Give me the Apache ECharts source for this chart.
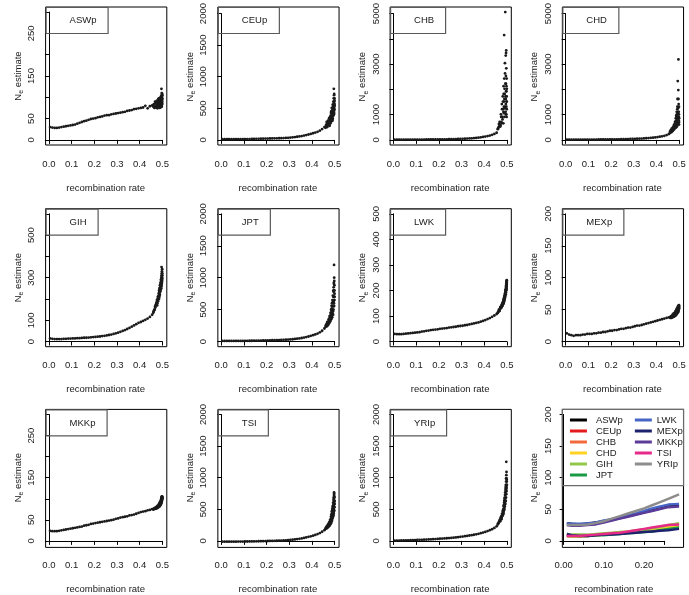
<!DOCTYPE html>
<html><head><meta charset="utf-8">
<script src="https://cdn.jsdelivr.net/npm/echarts@6/dist/echarts.min.js"></script>
<style>html,body{margin:0;padding:0;background:#fff}#c{width:689px;height:595px}</style>
</head><body><div id="c"></div>
<script>
// ---------- data ----------
const xsBody = [0.005,0.015,0.025,0.035,0.045,0.055,0.065,0.075,0.085,0.095,0.105,0.115,0.125,0.135,0.145,0.155,0.165,0.175,0.185,0.195,0.205,0.215,0.225,0.235,0.245,0.255,0.265,0.275,0.285,0.295,0.305,0.315,0.325,0.335,0.345,0.355,0.365,0.375,0.385,0.395,0.405,0.415,0.425,0.435,0.445,0.455];
const xsTail = [0.46,0.463,0.466,0.469,0.472,0.475,0.477,0.479,0.481,0.483,0.485,0.486,0.487,0.488,0.489,0.49,0.491,0.492,0.493,0.494,0.495,0.4955,0.496,0.4965,0.497,0.4975,0.498,0.4985,0.499,0.4995,0.4998];
const xsTail2 = [0.461,0.465,0.468,0.471,0.474,0.476,0.478,0.48,0.482,0.484,0.4845,0.4855,0.4865,0.4875,0.4885,0.4895,0.4905,0.4915,0.4925,0.4935,0.4945,0.4952,0.4958,0.4962,0.4968,0.4972,0.4978,0.4982,0.4988,0.4992,0.4996];

const ASWpBody = [30,29,28,28,29,30,31,32,33,34, 35,36,38,40,42,44,45,47,49,50, 51,53,54,55,57,58,58,60,61,62, 63,64,65,66,68,69,70,72,73,74, 75,76,80,74,79,81];
const ASWpTail = [78,84,76,86,80, 88,78,90,82,92, 80,86,95,78,90, 84,97,76,88,100, 82,93,120,86,98, 78,102,88,95,84, 105];
const ASWpTail2 = [82,75,90,77,85, 92,74,87,96,79, 88,83,98,75,92, 80,99,86,78,94, 89,104,81,96,87, 110,84,99,91,108, 97];
const CEUpBody = [10,10,10,10,10,10,11,11,11,12, 12,13,13,14,15,16,17,18,19,20, 21,22,23,24,25,26,27,28,30,33, 36,40,44,49,54,60,67,75,84,94, 104,114,126,145,170,200];
const CEUpTail = [190,240,220,260,230, 300,250,330,280,380, 300,350,420,310,400, 360,470,330,430,520, 380,560,450,800,500, 700,420,600,480,650, 540];
const CEUpTail2 = [210,280,200,300,260, 340,220,360,260,420, 330,450,290,500,350, 410,300,550,380,470, 600,420,520,650,400, 580,460,720,520,620, 560];
const CHBBody = [10,10,10,10,10,11,11,11,12,12, 12,13,13,14,15,15,16,17,18,19, 20,21,22,24,25,27,29,31,34,37, 41,45,50,56,62,70,78,88,100,115, 130,150,170,200,235,280];
const CHBTail = [420,480,530,600,560, 900,650,1200,800,1500, 1100,1800,1300,4100,1600, 2000,1250,2600,5000,1700, 3300,1400,2200,3400,1000, 2800,1900,1500,2400,1200, 2000];
const CHBTail2 = [450,620,700,520,1000, 700,1400,900,1700,1200, 650,2100,1050,1500,2400, 900,1800,3000,1300,2200, 1100,1600,2500,1000,1900, 3500,1300,2100,900,1700, 1500];
const CHDBody = [10,10,10,10,10,10,11,11,11,12, 12,13,13,14,15,15,16,17,18,19, 20,21,22,24,25,27,29,31,34,37, 40,44,48,53,58,64,71,79,88,98, 110,124,140,160,190,230];
const CHDTail = [320,380,300,420,350, 480,400,550,450,650, 500,750,600,900,550, 1000,700,1200,1600,2300, 800,1100,650,1950,3150, 900,1400,750,1000,600, 850];
const CHDTail2 = [280,340,450,380,520, 420,600,480,700,560, 620,850,480,950,700, 1100,520,800,1300,900, 600,1000,700,1250,850, 1600,700,1100,900,1300, 700];
const GIHBody = [15,13,12,12,12,12,13,13,14,14, 15,15,16,16,17,18,18,19,20,21, 22,23,24,26,27,29,31,33,36,39, 42,46,50,54,59,64,70,76,82,88, 92,97,102,108,116,126];
const GIHTail = [135,145,150,160,175, 185,170,200,190,215, 200,230,210,240,220, 255,235,265,245,280, 250,290,260,350,270, 300,275,310,285,295, 320];
const GIHTail2 = [140,150,165,170,180, 195,180,210,200,225, 205,240,220,250,230, 265,240,275,255,290, 265,300,270,310,280, 320,290,330,300,340, 310];
const JPTBody = [10,10,10,10,10,10,10,11,11,11, 12,12,13,13,14,14,15,16,17,18, 19,20,21,22,23,24,25,27,29,31, 34,37,41,45,50,56,63,71,80,90, 100,112,126,145,170,205];
const JPTTail = [230,260,240,290,270, 330,300,380,320,420, 350,480,400,520,380, 560,430,620,470,700, 500,780,550,920,600, 1200,650,950,700,800, 750];
const JPTTail2 = [250,280,310,260,350, 290,400,340,450,360, 500,420,560,380,600, 450,650,500,720,420, 800,560,850,620,700, 900,560,1000,650,880, 700];
const LWKBody = [30,29,29,29,30,31,32,33,34,35, 36,37,39,40,42,43,45,46,47,48, 50,51,52,53,55,56,57,58,60,61, 62,64,65,67,69,71,73,75,78,81, 84,88,92,97,102,108];
const LWKTail = [112,118,122,128,132, 138,135,145,140,152, 148,160,155,168,160, 175,168,182,175,192, 185,200,192,210,200, 220,205,230,215,240, 225];
const LWKTail2 = [115,125,120,135,130, 142,138,150,145,158, 150,165,158,172,165, 180,172,188,180,198, 190,205,198,215,205, 225,210,235,220,232, 238];
const MEXpBody = [13,11,10,9,10,10,10,11,11,12, 12,12,13,13,14,14,15,15,16,17, 17,18,18,19,20,20,21,22,22,23, 24,25,25,26,27,28,29,30,31,32, 33,34,35,36,37,38];
const MEXpTail = [38,39,37,40,38, 42,39,43,40,44, 41,46,42,47,43, 48,44,49,45,50, 46,52,47,54,48, 56,50,53,51,55, 52];
const MEXpTail2 = [37,40,38,42,39, 44,40,45,41,47, 43,48,44,49,45, 51,46,52,47,53, 49,55,50,54,52, 56,51,55,53,54, 57];
const MKKpBody = [27,26,26,26,27,28,29,30,31,32, 33,34,35,36,37,39,40,41,43,44, 45,46,47,48,49,50,51,52,53,55, 56,58,59,60,61,63,64,65,67,69, 71,72,73,75,76,78];
const MKKpTail = [77,79,78,80,79, 82,80,84,82,85, 83,87,84,88,86, 90,87,92,89,95, 91,98,93,101,95, 104,97,107,100,105, 102];
const MKKpTail2 = [78,80,79,82,81, 84,82,86,83,88, 85,90,86,92,88, 94,90,96,92,99, 94,102,96,105,99, 106,100,108,103,104, 106];
const TSIBody = [10,10,10,10,10,10,10,11,11,11, 12,12,13,13,14,15,16,17,18,19, 20,21,22,23,24,26,27,29,31,34, 37,41,45,50,55,61,68,76,85,94, 104,115,128,145,165,190];
const TSITail = [210,230,220,260,240, 290,260,320,280,360, 300,400,330,450,350, 500,380,540,400,580, 420,620,450,680,480, 780,500,720,550,650, 600];
const TSITail2 = [220,250,230,280,250, 310,270,350,300,400, 320,430,360,480,380, 520,420,560,440,620, 460,660,500,700,520, 740,560,760,600,700, 640];
const YRIpBody = [27,27,27,28,29,30,31,32,33,35, 36,38,39,41,43,45,47,49,51,53, 56,58,61,63,66,69,72,76,80,85, 90,95,100,106,112,118,125,133,142,152, 163,175,190,205,225,250];
const YRIpTail = [280,300,320,350,370, 400,380,450,420,500, 460,560,500,620,520, 680,560,740,600,820, 650,880,700,1000,750, 1260,800,1100,850,950, 900];
const YRIpTail2 = [290,310,340,330,390, 360,420,410,480,440, 520,480,580,520,650, 560,700,600,780,640, 850,700,900,760,950, 820,1050,880,1000,900, 980];

// summary (last panel) lines
const lineX = [0.008,0.02,0.04,0.06,0.08,0.10,0.12,0.14,0.16,0.18,0.20,0.22,0.24,0.26,0.287];
const lineASWp = [30,29,28,29,31,33,35,38,41,44,47,50,53,56,58];
const lineCEUp = [11,10,10,11,12,13,14,15,16,18,20,22,24,26,29];
const lineCHB  = [10,10,10,10,11,12,13,14,15,17,18,20,22,24,26];
const lineCHD  = [10,9,9,10,11,12,13,14,15,16,18,20,22,24,25];
const lineGIH  = [13,12,12,12,13,14,15,16,17,19,20,22,24,27,30];
const lineJPT  = [10,10,10,10,11,11,12,13,14,15,16,17,19,21,23];
const lineLWK  = [30,29,29,30,31,34,36,39,42,45,49,53,56,59,60];
const lineMEXp = [13,11,10,10,11,12,12,13,14,15,16,17,18,19,21];
const lineMKKp = [27,26,26,27,28,31,34,37,40,43,46,49,52,55,56];
const lineTSI  = [10,10,10,11,12,13,14,15,17,19,21,23,25,27,28];
const lineYRIp = [27,27,27,28,30,33,37,41,45,49,53,58,63,68,75];

const popNames = ['ASWp','CEUp','CHB','CHD','GIH','JPT','LWK','MEXp','MKKp','TSI','YRIp'];
const popColors = ['#000000','#E41A1C','#F26A3B','#FFD320','#92C84A','#1B9A45','#4765C4','#1E226E','#5B3A98','#E62A8A','#8C8C8C'];

// tick labels
const xTickLabels = ['0.0','0.1','0.2','0.3','0.4','0.5'];
const xTickLabelsSummary = ['0.00','','0.10','','0.20',''];
const yLab300 = ['0','50','','150','','250',''];
const yLab2000 = ['0','500','1000','1500','2000'];
const yLab5000 = ['0','1000','','3000','','5000'];
const yLab600 = ['0','100','','300','','500',''];
const yLab500 = ['0','100','200','300','400','500'];
const yLab200 = ['0','50','100','150','200'];

// ---------- layout ----------
const FONT = "'Liberation Sans', Arial, Helvetica, sans-serif";
const TXT = '#1a1a1a';
const BW = 121.2, BH = 138;
const ROW_TOP = [7, 208.7, 409.4];
const AXIS_OFF = 5;
function boxLeft(c){ return 45.6 + 172.25 * c; }

const panels = [
  {name:'ASWp', parts:[ASWpBody, ASWpTail, ASWpTail2], ytop:300,  yint:50,   ylab:yLab300},
  {name:'CEUp', parts:[CEUpBody, CEUpTail, CEUpTail2], ytop:2000, yint:500,  ylab:yLab2000},
  {name:'CHB',  parts:[CHBBody,  CHBTail,  CHBTail2],  ytop:5000, yint:1000, ylab:yLab5000},
  {name:'CHD',  parts:[CHDBody,  CHDTail,  CHDTail2],  ytop:5000, yint:1000, ylab:yLab5000},
  {name:'GIH',  parts:[GIHBody,  GIHTail,  GIHTail2],  ytop:600,  yint:100,  ylab:yLab600},
  {name:'JPT',  parts:[JPTBody,  JPTTail,  JPTTail2],  ytop:2000, yint:500,  ylab:yLab2000},
  {name:'LWK',  parts:[LWKBody,  LWKTail,  LWKTail2],  ytop:500,  yint:100,  ylab:yLab500},
  {name:'MEXp', parts:[MEXpBody, MEXpTail, MEXpTail2], ytop:200,  yint:50,   ylab:yLab200},
  {name:'MKKp', parts:[MKKpBody, MKKpTail, MKKpTail2], ytop:300,  yint:50,   ylab:yLab300},
  {name:'TSI',  parts:[TSIBody,  TSITail,  TSITail2],  ytop:2000, yint:500,  ylab:yLab2000},
  {name:'YRIp', parts:[YRIpBody, YRIpTail, YRIpTail2], ytop:2000, yint:500,  ylab:yLab2000}
];

const grid = [], xAxis = [], yAxis = [], series = [], title = [];

function ext(lo, hi){ const d = (hi - lo) * 0.04; return [lo - d, hi + d]; }

function addPanel(k, xr, xTickMax, xint, xlabs, ytop, yint, ylabs){
  const c = k % 4, r = Math.floor(k / 4);
  const L = boxLeft(c), T = ROW_TOP[r];
  const yr = ext(0, ytop);
  const gA = grid.length;
  grid.push({left:L, top:T, width:BW, height:BH, show:true, borderColor:'#000', borderWidth:1, backgroundColor:'transparent'});
  xAxis.push({gridIndex:gA, type:'value', min:xr[0], max:xr[1], show:false});
  yAxis.push({gridIndex:gA, type:'value', min:yr[0], max:yr[1], show:false});
  const gLeft = L + (0 - xr[0]) / (xr[1] - xr[0]) * BW;
  const gW = xTickMax / (xr[1] - xr[0]) * BW;
  const gTop = T + (yr[1] - ytop) / (yr[1] - yr[0]) * BH;
  const gH = ytop / (yr[1] - yr[0]) * BH;
  const gB = grid.length;
  grid.push({left:gLeft, top:gTop, width:gW, height:gH, show:false});
  const axLine = {show:true, lineStyle:{color:'#000', width:1}};
  const axTick = {show:true, length:4, lineStyle:{color:'#000', width:1}};
  xAxis.push({gridIndex:gB, type:'value', min:0, max:xTickMax, interval:xint, position:'bottom',
    offset:(T + BH) - (gTop + gH) + AXIS_OFF,
    axisLine:axLine, axisTick:axTick, splitLine:{show:false},
    axisLabel:{margin:9, fontSize:9.5, fontFamily:FONT, color:TXT, showMinLabel:true, showMaxLabel:true,
      formatter:(v)=> xlabs[Math.round(v / xint)] || ''},
    name:'recombination rate', nameLocation:'middle', nameGap:33,
    nameTextStyle:{fontSize:9.5, fontFamily:FONT, color:TXT}});
  yAxis.push({gridIndex:gB, type:'value', min:0, max:ytop, interval:yint, position:'left',
    offset:gLeft - L + AXIS_OFF,
    axisLine:axLine, axisTick:axTick, splitLine:{show:false},
    axisLabel:{margin:4, rotate:90, fontSize:9.5, fontFamily:FONT, color:TXT, showMinLabel:true, showMaxLabel:true,
      formatter:(v)=> ylabs[Math.round(v / yint)] || ''},
    name:'{n|N}{s|e}{n| estimate}', nameLocation:'middle', nameGap:16,
    nameTextStyle:{fontSize:9.5, fontFamily:FONT, color:TXT,
      rich:{n:{fontSize:9.5, fontFamily:FONT, color:TXT, lineHeight:13},
            s:{fontSize:7, fontFamily:FONT, color:TXT, verticalAlign:'bottom'}}}});
  return {gA, L, T};
}

const xParts = [xsBody, xsTail, xsTail2];
const allX = [].concat(...xParts);
const xrScatter = ext(Math.min(...allX), Math.max(...allX));

panels.forEach((p, k) => {
  const {gA, L, T} = addPanel(k, xrScatter, 0.5, 0.1, xTickLabels, p.ytop, p.yint, p.ylab);
  const data = [];
  xParts.forEach((xs, j) => xs.forEach((x, i) => data.push([x, p.parts[j][i]])));
  series.push({type:'scatter', xAxisIndex:gA, yAxisIndex:gA, silent:true,
    symbol:'circle', symbolSize:2.8, itemStyle:{color:'#1a1a1a', opacity:1}, data});
  title.push({text:p.name, left:L, top:T, padding:[8,12,8,24], borderColor:'#5a5a5a', borderWidth:1.2,
    textStyle:{fontSize:9.5, fontWeight:'normal', fontFamily:FONT, color:TXT, lineHeight:11}});
});

// summary panel
const lineVals = [lineASWp,lineCEUp,lineCHB,lineCHD,lineGIH,lineJPT,lineLWK,lineMEXp,lineMKKp,lineTSI,lineYRIp];
const sm = addPanel(11, ext(Math.min(...lineX), Math.max(...lineX)), 0.25, 0.05, xTickLabelsSummary, 200, 50, yLab200);
lineVals.forEach((vals, i) => {
  series.push({type:'line', name:popNames[i], xAxisIndex:sm.gA, yAxisIndex:sm.gA, silent:true,
    showSymbol:false, symbol:'none', lineStyle:{width:2.5, color:popColors[i]}, itemStyle:{color:popColors[i]},
    data: lineX.map((x, j) => [x, vals[j]])});
});
const legendCommon = {orient:'vertical', itemGap:0, itemWidth:17, itemHeight:3, icon:'rect', padding:0, selectedMode:false};
const legend = [
  Object.assign({}, legendCommon, {data:popNames.slice(0,6), left:sm.L + 7.6, top:sm.T + 5.1,
    textStyle:{fontSize:9.5, fontFamily:FONT, color:TXT, lineHeight:11, padding:[0,0,0,4]}}),
  Object.assign({}, legendCommon, {data:popNames.slice(6), left:sm.L + 72.5, top:sm.T + 5.1,
    textStyle:{fontSize:9.5, fontFamily:FONT, color:TXT, lineHeight:11, padding:[0,0,0,0]}})
];

const chart = echarts.init(document.getElementById('c'), null, {renderer:'canvas'});
chart.setOption({
  animation:false,
  backgroundColor:'#fff',
  title, grid, xAxis, yAxis, series, legend,
  graphic:[{type:'rect', z:3, silent:true,
    shape:{x:sm.L, y:sm.T, width:BW, height:76.3},
    style:{fill:'transparent', stroke:'#6a6a6a', lineWidth:1.2}}]
});
</script></body></html>
